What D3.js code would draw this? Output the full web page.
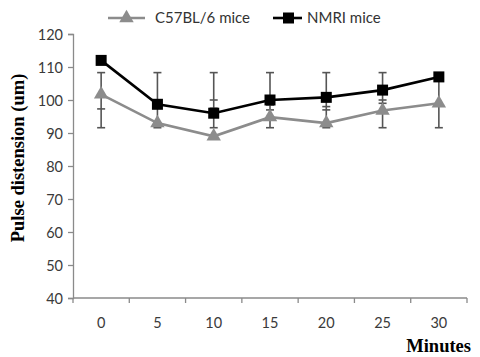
<!DOCTYPE html>
<html>
<head>
<meta charset="utf-8">
<script src="https://cdn.jsdelivr.net/npm/d3@7"></script>
<style>
  body { margin: 0; background: #fff; }
  svg { display: block; }
</style>
</head>
<body>
<div id="chart"></div>
<script>
// data
const minutes = ["0", "5", "10", "15", "20", "25", "30"]
const c57 = [101.7, 93, 89, 94.8, 93, 96.8, 99]
const nmri = [112, 98.7, 96, 100, 100.8, 103, 107]
const errTop = [108.3, 108.3, 108.3, 108.3, 108.3, 108.3, 107]
const errBottom = [91.6, 91.6, 91.6, 91.6, 91.6, 91.6, 91.6]
const midCaps = [[97.3], [], [100, 97.5], [98.5, 97], [98, 97], [100, 99], []]
const yTicks = [40, 50, 60, 70, 80, 90, 100, 110, 120]

const width = 480, height = 357
const margin = {top: 34, right: 13, bottom: 59, left: 73}
const labelFont = "Lato, 'Open Sans', sans-serif"
const titleFont = "'Liberation Serif', 'Times New Roman', serif"

const svg = d3.select("#chart")
  .append("svg")
  .attr("width", width)
  .attr("height", height)

const x = d3.scaleBand()
  .domain(minutes)
  .range([margin.left, width - margin.right])

const y = d3.scaleLinear()
  .domain([40, 120])
  .range([height - margin.bottom, margin.top])

const cx = d => x(d) + x.bandwidth() / 2

// y axis
const yAxis = svg.append("g")
  .attr("transform", `translate(${margin.left},0)`)
  .call(d3.axisLeft(y).tickValues(yTicks).tickSize(5).tickPadding(5))
yAxis.selectAll("line, path").attr("stroke", "#8a8a8a").attr("stroke-width", 1.3)
yAxis.selectAll("text")
  .attr("fill", "#3a3a3a")
  .style("font-family", labelFont)
  .style("font-size", "14.5px")
  .attr("dy", "0.35em")

// x axis, ticks on the band edges
const xAxis = svg.append("g")
  .attr("transform", `translate(0,${height - margin.bottom})`)
xAxis.append("line")
  .attr("x1", margin.left).attr("x2", width - margin.right)
  .attr("stroke", "#8a8a8a").attr("stroke-width", 1.3)
xAxis.selectAll(".edge")
  .data(minutes.concat(["end"]))
  .enter()
  .append("line")
  .attr("x1", (d, i) => margin.left + i * x.bandwidth())
  .attr("x2", (d, i) => margin.left + i * x.bandwidth())
  .attr("y1", 0).attr("y2", 5)
  .attr("stroke", "#8a8a8a").attr("stroke-width", 1.3)
xAxis.selectAll(".lbl")
  .data(minutes)
  .enter()
  .append("text")
  .attr("x", d => cx(d))
  .attr("y", 30)
  .attr("text-anchor", "middle")
  .attr("fill", "#3a3a3a")
  .style("font-family", labelFont)
  .style("font-size", "14.5px")
  .text(d => d)

// error bars
const eb = svg.append("g").attr("stroke", "#555").attr("stroke-width", 1.6)
minutes.forEach((m, i) => {
  eb.append("line")
    .attr("x1", cx(m)).attr("x2", cx(m))
    .attr("y1", y(errTop[i])).attr("y2", y(errBottom[i]))
  const caps = [errTop[i], errBottom[i]].concat(midCaps[i])
  caps.forEach(v => {
    eb.append("line")
      .attr("x1", cx(m) - 4).attr("x2", cx(m) + 4)
      .attr("y1", y(v)).attr("y2", y(v))
  })
})

const line = d3.line()
  .x((d, i) => cx(minutes[i]))
  .y(d => y(d))

// C57BL/6 series
svg.append("path")
  .datum(c57)
  .attr("fill", "none")
  .attr("stroke", "#8c8c8c")
  .attr("stroke-width", 2.6)
  .attr("d", line)

const tri = d3.symbol().type(d3.symbolTriangle).size(90)
svg.selectAll(".tri")
  .data(c57)
  .enter()
  .append("path")
  .attr("d", tri)
  .attr("fill", "#8c8c8c")
  .attr("transform", (d, i) => `translate(${cx(minutes[i])},${y(d)})`)

// NMRI series
svg.append("path")
  .datum(nmri)
  .attr("fill", "none")
  .attr("stroke", "#000")
  .attr("stroke-width", 2.6)
  .attr("d", line)

svg.selectAll(".sq")
  .data(nmri)
  .enter()
  .append("rect")
  .attr("x", (d, i) => cx(minutes[i]) - 5.5)
  .attr("y", d => y(d) - 5.5)
  .attr("width", 11)
  .attr("height", 11)
  .attr("fill", "#000")

// legend
const lg = svg.append("g")
lg.append("line").attr("x1", 108).attr("x2", 145).attr("y1", 18).attr("y2", 18)
  .attr("stroke", "#8c8c8c").attr("stroke-width", 2.6)
lg.append("path").attr("d", tri).attr("fill", "#8c8c8c")
  .attr("transform", "translate(126.5,18)")
lg.append("text").attr("x", 155).attr("y", 23)
  .attr("fill", "#333")
  .style("font-family", labelFont)
  .style("font-size", "15px")
  .text("C57BL/6 mice")
lg.append("line").attr("x1", 273).attr("x2", 302).attr("y1", 18).attr("y2", 18)
  .attr("stroke", "#000").attr("stroke-width", 2.6)
lg.append("rect").attr("x", 283).attr("y", 12.5).attr("width", 11).attr("height", 11)
  .attr("fill", "#000")
lg.append("text").attr("x", 307).attr("y", 23)
  .attr("fill", "#333")
  .style("font-family", labelFont)
  .style("font-size", "15px")
  .text("NMRI mice")

// axis titles
svg.append("text")
  .attr("transform", "translate(24,158) rotate(-90)")
  .attr("text-anchor", "middle")
  .style("font-family", titleFont)
  .style("font-weight", "bold")
  .style("font-size", "18.5px")
  .text("Pulse distension (um)")

svg.append("text")
  .attr("x", 471)
  .attr("y", 352)
  .attr("text-anchor", "end")
  .style("font-family", titleFont)
  .style("font-weight", "bold")
  .style("font-size", "18.5px")
  .text("Minutes")
</script>
</body>
</html>
